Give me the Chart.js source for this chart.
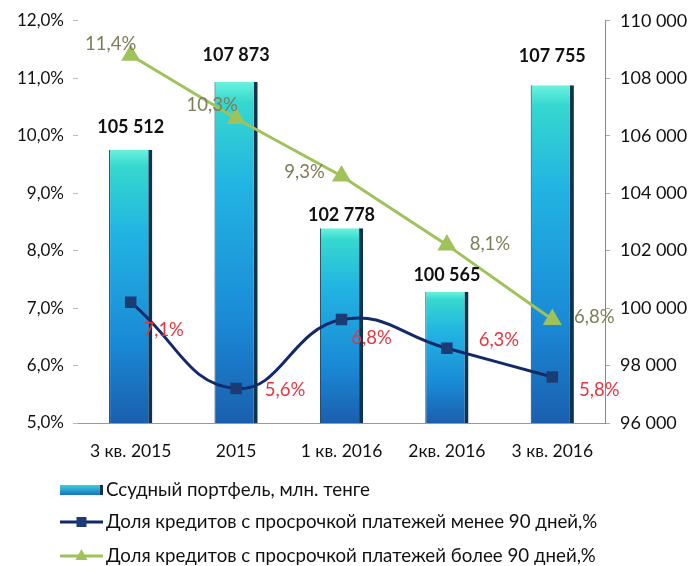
<!DOCTYPE html>
<html><head><meta charset="utf-8">
<script src="https://cdn.jsdelivr.net/npm/chart.js@4.4.1/dist/chart.umd.min.js"></script>
<style>html,body{margin:0;padding:0;background:#fff;}#wrap{width:690px;height:566px;position:relative;}</style>
</head><body><div id="wrap"><canvas id="c" width="690" height="566"></canvas></div>
<script>
const categories = ['3 кв. 2015', '2015', '1 кв. 2016', '2кв. 2016', '3 кв. 2016'];
const portfolio = [105512, 107873, 102778, 100565, 107755];
const shareUnder90 = [7.1, 5.6, 6.8, 6.3, 5.8];
const shareOver90 = [11.4, 10.3, 9.3, 8.1, 6.8];
const seriesNames = ['Ссудный портфель, млн. тенге', 'Доля кредитов с просрочкой платежей менее 90 дней,%', 'Доля кредитов с просрочкой платежей более 90 дней,%'];

const FONT = 'Lato, "Open Sans", sans-serif';
const fmtThousands = v => String(Math.round(v)).replace(/\B(?=(\d{3})+(?!\d))/g, ' ');
const fmtPct = (v, d) => v.toFixed(d).replace('.', ',') + '%';

function barGradient(ctx) {
  const chart = ctx.chart;
  const s = chart.scales && chart.scales.y1;
  if (!s || !chart.chartArea || ctx.type !== 'data') return '#1fa0dc';
  const top = s.getPixelForValue(ctx.raw), bottom = s.getPixelForValue(s.min);
  if (!isFinite(top) || !isFinite(bottom) || top === bottom) return '#1fa0dc';
  const g = chart.ctx.createLinearGradient(0, top, 0, bottom);
  g.addColorStop(0, '#6af2de');
  g.addColorStop(0.06, '#35d8cf');
  g.addColorStop(0.3, '#22b4e2');
  g.addColorStop(0.7, '#1a8ad6');
  g.addColorStop(1, '#1a5fae');
  return g;
}

const labelPlugin = {
  id: 'labels',
  afterDatasetsDraw(chart) {
    const c = chart.ctx;
    c.save();
    c.textAlign = 'center'; c.textBaseline = 'middle';
    const barOff = [-23, -27, -13, -17, -29];
    c.font = 'bold 18px ' + FONT; c.fillStyle = '#111';
    chart.getDatasetMeta(0).data.forEach((el, i) => {
      c.fillText(fmtThousands(portfolio[i]), el.x, el.y + barOff[i]);
    });
    const redOff = [[33, 28], [49, 2], [30, 18], [52, -8], [47, 13]];
    c.font = '18.5px ' + FONT; c.fillStyle = '#e8343f';
    chart.getDatasetMeta(1).data.forEach((el, i) => {
      c.fillText(fmtPct(shareUnder90[i], 1), el.x + redOff[i][0], el.y + redOff[i][1]);
    });
    const grOff = [[-20, -11], [-24, -13], [-37, -4], [43, -1], [42, -3]];
    c.fillStyle = '#7d7d58';
    chart.getDatasetMeta(2).data.forEach((el, i) => {
      c.fillText(fmtPct(shareOver90[i], 1), el.x + grOff[i][0], el.y + grOff[i][1]);
    });
    c.restore();
  }
};

const legendPlugin = {
  id: 'customLegend',
  afterDraw(chart) {
    const c = chart.ctx;
    c.save();
    c.font = '18.7px ' + FONT; c.fillStyle = '#111';
    c.textAlign = 'left'; c.textBaseline = 'middle';
    const x0 = 60, x1 = 103;
    const ys = [490, 522, 556];
    const g = c.createLinearGradient(0, ys[0] - 5, 0, ys[0] + 5);
    g.addColorStop(0, '#3cd2d6'); g.addColorStop(1, '#1a72c2');
    c.fillStyle = g; c.fillRect(x0, ys[0] - 5, x1 - x0, 10);
    c.fillStyle = '#0e3350'; c.fillRect(x1 - 3, ys[0] - 5, 3, 10);
    c.strokeStyle = '#13296a'; c.lineWidth = 3;
    c.beginPath(); c.moveTo(x0, ys[1]); c.lineTo(x1, ys[1]); c.stroke();
    c.fillStyle = '#1b3c74'; c.fillRect((x0 + x1) / 2 - 5, ys[1] - 5, 10, 10);
    c.strokeStyle = '#9fc25a';
    c.beginPath(); c.moveTo(x0, ys[2]); c.lineTo(x1, ys[2]); c.stroke();
    c.fillStyle = '#9fc25a';
    const cx = (x0 + x1) / 2;
    c.beginPath(); c.moveTo(cx, ys[2] - 7); c.lineTo(cx + 6, ys[2] + 4); c.lineTo(cx - 6, ys[2] + 4); c.closePath(); c.fill();
    c.fillStyle = '#111';
    seriesNames.forEach((n, i) => c.fillText(n, x1 + 3, ys[i]));
    c.restore();
  }
};

new Chart(document.getElementById('c'), {
  data: {
    labels: categories,
    datasets: [
      { type: 'bar', label: seriesNames[0], data: portfolio, yAxisID: 'y1', order: 3,
        backgroundColor: barGradient, borderColor: '#0e3350',
        borderWidth: { left: 1, right: 4, top: 0, bottom: 0 }, borderSkipped: false,
        categoryPercentage: 1, barPercentage: 0.41 },
      { type: 'line', label: seriesNames[1], data: shareUnder90, yAxisID: 'y', order: 1,
        borderColor: '#13296a', borderWidth: 3, tension: 0.45,
        pointStyle: 'rect', pointRadius: 6, pointBackgroundColor: '#1b3c74', pointBorderColor: '#1b3c74' },
      { type: 'line', label: seriesNames[2], data: shareOver90, yAxisID: 'y', order: 2,
        borderColor: '#9fc25a', borderWidth: 3, tension: 0,
        pointStyle: 'triangle', pointRadius: 8, pointRotation: 120,
        pointBackgroundColor: '#9fc25a', pointBorderColor: '#9fc25a' }
    ]
  },
  options: {
    responsive: false, animation: false,
    layout: { padding: { top: 19, bottom: 86, left: 0, right: 0 } },
    plugins: { legend: { display: false }, tooltip: { enabled: false } },
    scales: {
      x: {
        grid: { display: false, drawTicks: false }, border: { display: true, color: '#999' },
        ticks: { color: '#111', font: { family: FONT, size: 17.5 }, padding: 18, maxRotation: 0 }
      },
      y: {
        position: 'left', min: 5, max: 12,
        afterFit(s) { s.width = 78; },
        grid: { drawOnChartArea: false, tickColor: '#bbb', tickLength: 5 }, border: { display: false },
        ticks: { stepSize: 1, color: '#111', font: { family: FONT, size: 17 }, padding: 9,
          callback: v => fmtPct(v, 1) }
      },
      y1: {
        position: 'right', min: 96000, max: 110000,
        afterFit(s) { s.width = 85; },
        grid: { drawOnChartArea: false, tickColor: '#aaa', tickLength: 5 }, border: { display: true, color: '#888' },
        ticks: { stepSize: 2000, color: '#111', font: { family: FONT, size: 18 }, padding: 10,
          callback: v => fmtThousands(v) }
      }
    }
  },
  plugins: [labelPlugin, legendPlugin]
});
</script>
</body></html>
